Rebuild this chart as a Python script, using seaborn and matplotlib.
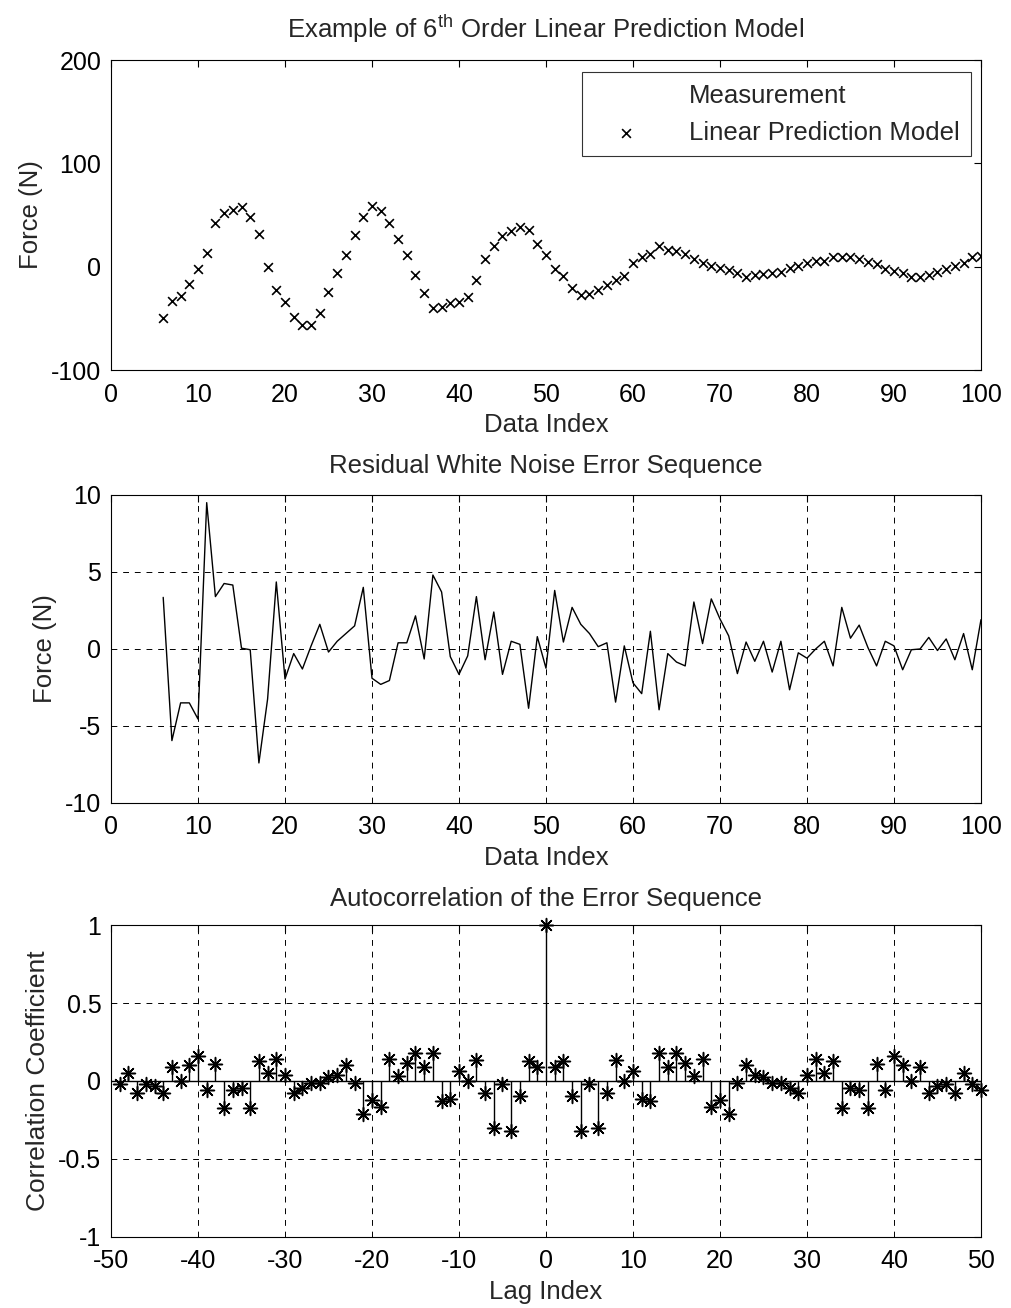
import numpy as np
import pandas as pd
import seaborn as sns
import matplotlib
matplotlib.use("Agg")
import matplotlib.pyplot as plt

# ---- data ----
idx = list(range(6, 101))
model = [-50, -33, -28, -17, -2, 13, 42, 52, 55, 58, 48, 32, 0, -23, -34, -49, -56, -56,
         -45, -24, -6, 11, 31, 48, 59, 54, 42, 27, 11, -8, -25, -40, -39, -35, -34, -29,
         -13, 7, 20, 30, 35, 38, 36, 22, 11, -2, -9, -21, -27, -26, -23, -18, -13, -9,
         4, 9, 12, 20, 16, 15, 12, 7, 4, 1, -1, -3, -6, -10, -8, -7, -6, -5, -1, 1, 4,
         6, 6, 9, 9, 9, 7, 5, 3, -2, -4, -6, -10, -10, -8, -5, -2, 1, 4, 9, 10]
measurement = model

residual = [3.35, -5.95, -3.5, -3.5, -4.55, 9.5, 3.4, 4.25, 4.15, 0.05, -0.05, -7.4,
            -3.25, 4.35, -1.95, -0.3, -1.3, 0.2, 1.6, -0.2, 0.5, 1.0, 1.5, 4.0, -1.9,
            -2.3, -2.05, 0.4, 0.4, 2.15, -0.65, 4.8, 3.7, -0.5, -1.65, -0.45, 3.4, -0.7,
            2.4, -1.65, 0.5, 0.3, -3.85, 0.8, -1.25, 3.8, 0.45, 2.7, 1.6, 1.0, 0.15, 0.4,
            -3.45, 0.2, -2.2, -2.9, 1.15, -3.95, -0.3, -0.85, -1.1, 3.05, 0.35, 3.25,
            1.95, 0.85, -1.6, 0.45, -0.8, 0.5, -1.5, 0.5, -2.65, -0.25, -0.6, 0.0, 0.5,
            -1.1, 2.7, 0.7, 1.55, 0.1, -1.1, 0.5, 0.2, -1.35, -0.05, 0.0, 0.75, -0.1,
            0.65, -0.7, 1.0, -1.35, 1.9]

# autocorrelation, positive lags 1..50 (negative side is the mirror image)
acf_pos = [0.09, 0.125, -0.095, -0.32, -0.02, -0.30, -0.075, 0.135, 0.0, 0.065,
           -0.115, -0.13, 0.18, 0.09, 0.18, 0.115, 0.03, 0.14, -0.165, -0.125,
           -0.21, -0.01, 0.10, 0.04, 0.025, -0.01, -0.01, -0.045, -0.075, 0.04,
           0.14, 0.05, 0.125, -0.17, -0.045, -0.055, -0.17, 0.11, -0.055, 0.16,
           0.10, 0.0, 0.09, -0.08, -0.035, -0.02, -0.08, 0.05, -0.02, -0.06]
lags = list(range(-49, 51))
acf = acf_pos[:49][::-1] + [1.0] + acf_pos

df_top = pd.DataFrame({"Data Index": idx, "Force": model, "Meas": measurement})
df_res = pd.DataFrame({"Data Index": idx, "Force": residual})
df_acf = pd.DataFrame({"Lag": lags, "r": acf})

sns.set_theme(style="white")
plt.rcParams["font.family"] = ["Liberation Sans", "DejaVu Sans"]
plt.rcParams["axes.unicode_minus"] = False
plt.rcParams["mathtext.fontset"] = "custom"
plt.rcParams["mathtext.rm"] = "Liberation Sans"
plt.rcParams["mathtext.it"] = "Liberation Sans"
title_font = {"fontsize": 18.5}
fs = 18
lfs = 18.5

fig = plt.figure(figsize=(10.11, 13.08), dpi=100)
ax1 = fig.add_axes([0.1098, 0.7171, 0.8605, 0.2370])
ax2 = fig.add_axes([0.1098, 0.3861, 0.8605, 0.2355])
ax3 = fig.add_axes([0.1098, 0.0543, 0.8605, 0.2385])


def matlab_box(ax):
    for s in ax.spines.values():
        s.set_color("black")
        s.set_linewidth(0.8)
    ax.tick_params(direction="in", top=True, right=True, length=5, width=0.8,
                   labelsize=fs, colors="black", pad=7)
    ax.tick_params(axis="x", pad=9)


# top panel
sns.lineplot(data=df_top, x="Data Index", y="Meas", ax=ax1, color="white", lw=1,
             label="Measurement", zorder=1)
sns.scatterplot(data=df_top, x="Data Index", y="Force", ax=ax1, marker="x", color="black",
                s=40, linewidth=1.2, label="Linear Prediction Model", zorder=3)
ax1.set_xlim(0, 100)
ax1.set_ylim(-100, 200)
ax1.set_xticks(range(0, 101, 10))
ax1.set_yticks([-100, 0, 100, 200])
ax1.set_xlabel("Data Index", fontsize=lfs, labelpad=5)
ax1.set_ylabel("Force (N)", fontsize=lfs, labelpad=6)
ax1.set_title(r"Example of 6$^{\rm th}$ Order Linear Prediction Model", pad=16, **title_font)
leg = ax1.legend(loc="upper right", fontsize=lfs, frameon=True, fancybox=False,
                 edgecolor="black", borderpad=0.45, handlelength=2.5, handletextpad=1.2,
                 borderaxespad=0, labelspacing=0.5,
                 bbox_to_anchor=(0.9885, 0.961))
leg.get_frame().set_linewidth(0.8)
matlab_box(ax1)

# middle panel
sns.lineplot(data=df_res, x="Data Index", y="Force", ax=ax2, color="black", lw=1)
ax2.set_xlim(0, 100)
ax2.set_ylim(-10, 10)
ax2.set_xticks(range(0, 101, 10))
ax2.set_yticks([-10, -5, 0, 5, 10])
ax2.set_xlabel("Data Index", fontsize=lfs, labelpad=5)
ax2.set_ylabel("Force (N)", fontsize=lfs, labelpad=6)
ax2.set_title("Residual White Noise Error Sequence", pad=16, **title_font)
ax2.grid(True, color="black", linestyle=(0, (6, 6)), linewidth=0.7)
matlab_box(ax2)

# bottom panel
ax3.vlines(df_acf["Lag"], 0, df_acf["r"], color="black", lw=1, zorder=2)
ax3.axhline(0, color="black", lw=1, zorder=2)
sns.scatterplot(data=df_acf, x="Lag", y="r", ax=ax3, marker=(8, 2, 0), color="black",
                s=100, linewidth=1.1, zorder=3, clip_on=False)
ax3.set_xlim(-50, 50)
ax3.set_ylim(-1, 1)
ax3.set_xticks(range(-50, 51, 10))
ax3.set_yticks([-1, -0.5, 0, 0.5, 1])
ax3.set_yticklabels(["-1", "-0.5", "0", "0.5", "1"])
ax3.set_xlabel("Lag Index", fontsize=lfs, labelpad=5)
ax3.set_ylabel("Correlation Coefficient", fontsize=lfs + 0.5, labelpad=6)
ax3.set_title("Autocorrelation of the Error Sequence", pad=14, **title_font)
ax3.grid(True, color="black", linestyle=(0, (6, 6)), linewidth=0.7)
matlab_box(ax3)

for ax in (ax1, ax2):
    ax.set_xticklabels([str(v) for v in range(0, 101, 10)])

fig.savefig("out.png", dpi=100, facecolor="white")
